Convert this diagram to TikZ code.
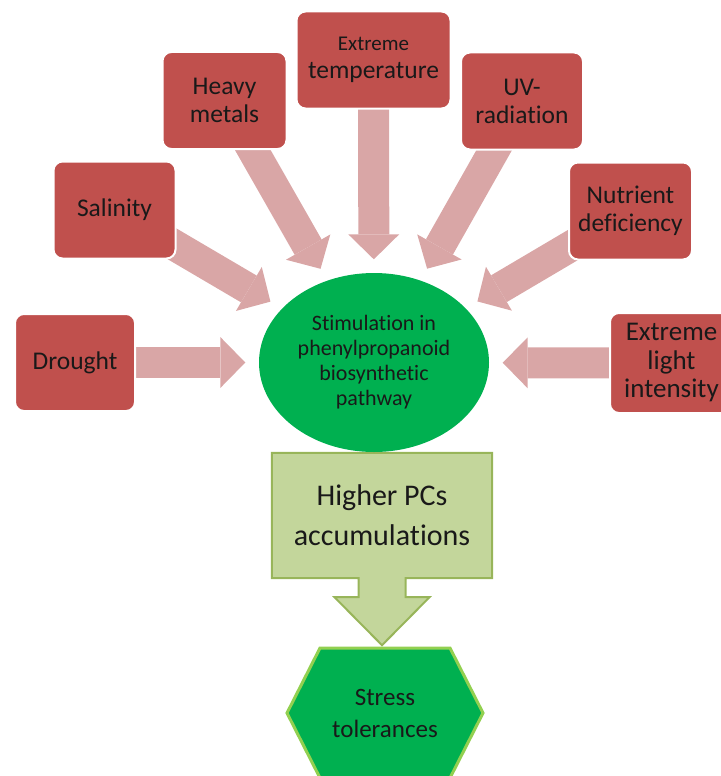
\documentclass[tikz,border=0pt]{standalone}
\usepackage{fontspec}
\setmainfont{Carlito}[Ligatures=NoCommon]
\usetikzlibrary{shapes.geometric,arrows.meta,calc,backgrounds}

\definecolor{boxred}{HTML}{C0504D}
\definecolor{arrowpink}{HTML}{D9A6A6}
\definecolor{stimgreen}{HTML}{00B050}
\definecolor{pcfill}{HTML}{C3D69B}
\definecolor{pcline}{HTML}{98B55A}
\definecolor{tolline}{HTML}{92D050}

\tikzset{
  stressbox/.style={rectangle, rounded corners=9pt, fill=boxred, draw=white, line width=2pt,
    text=black!90, align=center, inner sep=0pt, minimum height=97pt,
    font=\fontsize{25.5}{28}\selectfont},
  stressarrow/.style={arrowpink, line width=31pt, shorten >=13.5pt,
    -{Triangle[length=25pt, width=51pt, line width'=0pt]}},
}

\begin{document}
\begin{tikzpicture}[x=1pt, y=-1pt]
  \useasboundingbox (0,0) rectangle (720,776);

  \node[stressbox, minimum width=120pt] (drought) at (75,362.5) {Drought};
  \node[stressbox, minimum width=122pt] (salinity) at (114.5,210) {Salinity};
  \node[stressbox, minimum width=124pt] (heavy) at (224.5,100.5) {Heavy\\metals};
  \node[stressbox, minimum width=154pt] (temp) at (373.5,60) {{\fontsize{21}{28}\selectfont Extreme}\\temperature};
  \node[stressbox, minimum width=122pt] (uv) at (522,101) {UV-\\radiation};
  \node[stressbox, minimum width=123pt] (nutrient) at (630.5,211) {Nutrient\\deficiency};
  \node[stressbox, minimum width=123pt, minimum height=100pt, font=\fontsize{27}{28.5}\selectfont] (light) at (671.5,363) {Extreme\\light\\intensity};

  \node[ellipse, fill=stimgreen, minimum width=230pt, minimum height=179pt, inner sep=0pt,
    align=center, text=black!90, font=\fontsize{22}{25}\selectfont] (stim) at (374,362.5)
    {Stimulation in\\phenylpropanoid\\biosynthetic\\pathway};

  \node[minimum width=220pt, minimum height=125pt, inner sep=0pt, align=center, text=black!90,
    font=\fontsize{30}{40}\selectfont] (pcs) at (382,515.5) {Higher PCs\\accumulations};

  \node[align=center, text=black!90, font=\fontsize{25}{32}\selectfont] (tolerance) at (385,713)
    {Stress\\tolerances};

  \begin{scope}[on background layer]
    \draw[stressarrow] (drought.center) -- (stim);
    \draw[stressarrow] (salinity.center) -- (stim);
    \draw[stressarrow] (heavy.center) -- (stim);
    \draw[stressarrow] (temp.center) -- (stim);
    \draw[stressarrow] (uv.center) -- (stim);
    \draw[stressarrow] (nutrient.center) -- (stim);
    \draw[stressarrow] (light.center) -- (stim);

    \draw[fill=pcfill, draw=pcline, line width=2pt] (pcs.north west) -- (pcs.north east)
      -- (pcs.south east) -- ($(pcs.south)+(23.5,0)$) -- ++(0,19) -- ++(24,0)
      -- ($(pcs.south)+(0,67)$) -- ($(pcs.south)+(-47.5,19)$) -- ++(24,0) -- ++(0,-19)
      -- (pcs.south west) -- cycle;

    \draw[fill=stimgreen, draw=tolline, line width=3pt] ($(tolerance)+(-98,0)$) -- ++(33,-65)
      -- ++(130,0) -- ++(33,65) -- ++(-33,65) -- ++(-130,0) -- cycle;
  \end{scope}
\end{tikzpicture}
\end{document}
